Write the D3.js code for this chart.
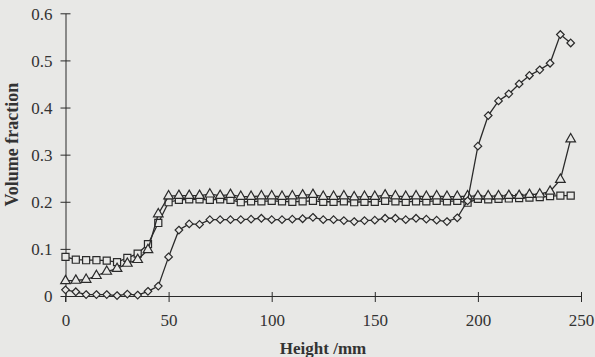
<!DOCTYPE html>
<html>
<head>
<meta charset="utf-8">
<script src="https://cdn.jsdelivr.net/npm/d3@7"></script>
<style>
  html, body { margin: 0; padding: 0; background: #e8e8e6; }
  svg { display: block; }
  text { font-family: "Liberation Serif", "Times New Roman", serif; fill: #333; }
</style>
</head>
<body>
<svg id="chart" width="595" height="357"></svg>
<script>
// Sampling heights (mm)
const heights = d3.range(0, 250, 5);

// Volume fraction profiles along the column
const seriesDiamond = [
  0.013, 0.009, 0.003, 0.003, 0.003, 0.001, 0.004, 0.002, 0.010, 0.021,
  0.083, 0.140, 0.153, 0.152, 0.162, 0.162, 0.162, 0.162, 0.163, 0.165,
  0.162, 0.162, 0.163, 0.164, 0.167, 0.162, 0.162, 0.160, 0.158, 0.160,
  0.161, 0.165, 0.165, 0.162, 0.165, 0.163, 0.161, 0.158, 0.166, 0.202,
  0.318, 0.383, 0.414, 0.429, 0.450, 0.468, 0.480, 0.494, 0.555, 0.537
];
const seriesTriangle = [
  0.032, 0.033, 0.035, 0.043, 0.052, 0.058, 0.069, 0.077, 0.098, 0.174,
  0.212, 0.213, 0.213, 0.213, 0.216, 0.213, 0.215, 0.211, 0.211, 0.212,
  0.212, 0.211, 0.212, 0.214, 0.215, 0.211, 0.211, 0.212, 0.210, 0.211,
  0.211, 0.214, 0.212, 0.211, 0.212, 0.211, 0.212, 0.211, 0.211, 0.212,
  0.212, 0.212, 0.212, 0.213, 0.213, 0.215, 0.216, 0.222, 0.247, 0.333
];
const seriesSquare = [
  0.083, 0.077, 0.076, 0.076, 0.075, 0.072, 0.081, 0.090, 0.110, 0.155,
  0.199, 0.204, 0.205, 0.205, 0.204, 0.205, 0.204, 0.199, 0.201, 0.201,
  0.202, 0.201, 0.200, 0.201, 0.202, 0.200, 0.200, 0.201, 0.199, 0.200,
  0.200, 0.202, 0.201, 0.200, 0.201, 0.201, 0.202, 0.201, 0.202, 0.198,
  0.206, 0.205, 0.206, 0.207, 0.208, 0.209, 0.210, 0.212, 0.213, 0.213
];

const xTicks = [0, 50, 100, 150, 200, 250];
const yTicks = [0, 0.1, 0.2, 0.3, 0.4, 0.5, 0.6];

const svg = d3.select("#chart");
const ink = "#2a2a2a";
const paper = "#e8e8e6";

const x = d3.scaleLinear().domain([0, 250]).range([65.5, 581]);
const y = d3.scaleLinear().domain([0, 0.6]).range([296, 13.3]);

// X axis: ticks cross the line
const gx = svg.append("g").attr("transform", `translate(0,${y(0)})`)
  .call(d3.axisBottom(x).tickValues(xTicks).tickSize(0).tickPadding(0).tickFormat(d3.format("d")));
gx.select(".domain").attr("stroke", ink).attr("stroke-width", 1);
gx.selectAll(".tick line").attr("y1", -4).attr("y2", 6).attr("stroke", ink);
gx.selectAll(".tick text").attr("y", 30).attr("dy", 0).style("font-size", "17px").style("fill", "#333");

// Y axis
const gy = svg.append("g").attr("transform", `translate(${x(0)},0)`)
  .call(d3.axisLeft(y).tickValues(yTicks).tickSize(0).tickPadding(0)
    .tickFormat(d => d === 0 ? "0" : d3.format(".1f")(d)));
gy.select(".domain").attr("stroke", ink).attr("stroke-width", 1);
gy.selectAll(".tick line").attr("x1", -5).attr("x2", 5).attr("stroke", ink);
gy.selectAll(".tick text").attr("x", -13).attr("dy", "0.35em").style("font-size", "17px").style("fill", "#333");
// y axis extends a little below zero
svg.append("line").attr("x1", x(0)).attr("x2", x(0)).attr("y1", y(0)).attr("y2", y(0) + 6)
  .attr("stroke", ink);

// Axis titles
svg.append("text")
  .attr("transform", `translate(18,${(y(0.6) + y(0)) / 2 - 10}) rotate(-90)`)
  .attr("text-anchor", "middle")
  .style("font-size", "18px").style("font-weight", "bold")
  .text("Volume fraction");
svg.append("text")
  .attr("x", 323).attr("y", 354)
  .attr("text-anchor", "middle")
  .style("font-size", "17px").style("font-weight", "bold")
  .text("Height /mm");

const line = d3.line().x(d => x(d[0])).y(d => y(d[1]));

// Even-sided diamond marker
const diamondPath = r => `M0,${-r}L${r},0L0,${r}L${-r},0Z`;

const seriesList = [
  { values: seriesSquare, marker: d3.symbol().type(d3.symbolSquare).size(50)() },
  { values: seriesTriangle, marker: d3.symbol().type(d3.symbolTriangle).size(40)() },
  { values: seriesDiamond, marker: diamondPath(3.8) }
];

seriesList.forEach(s => {
  const pts = heights.map((h, i) => [h, s.values[i]]);
  svg.append("path").datum(pts)
    .attr("d", line).attr("fill", "none")
    .attr("stroke", ink).attr("stroke-width", 1.3);
  svg.append("g").selectAll("path").data(pts).join("path")
    .attr("transform", d => `translate(${x(d[0])},${y(d[1])})`)
    .attr("d", s.marker)
    .attr("fill", paper).attr("stroke", ink).attr("stroke-width", 1.2);
});
</script>
</body>
</html>
